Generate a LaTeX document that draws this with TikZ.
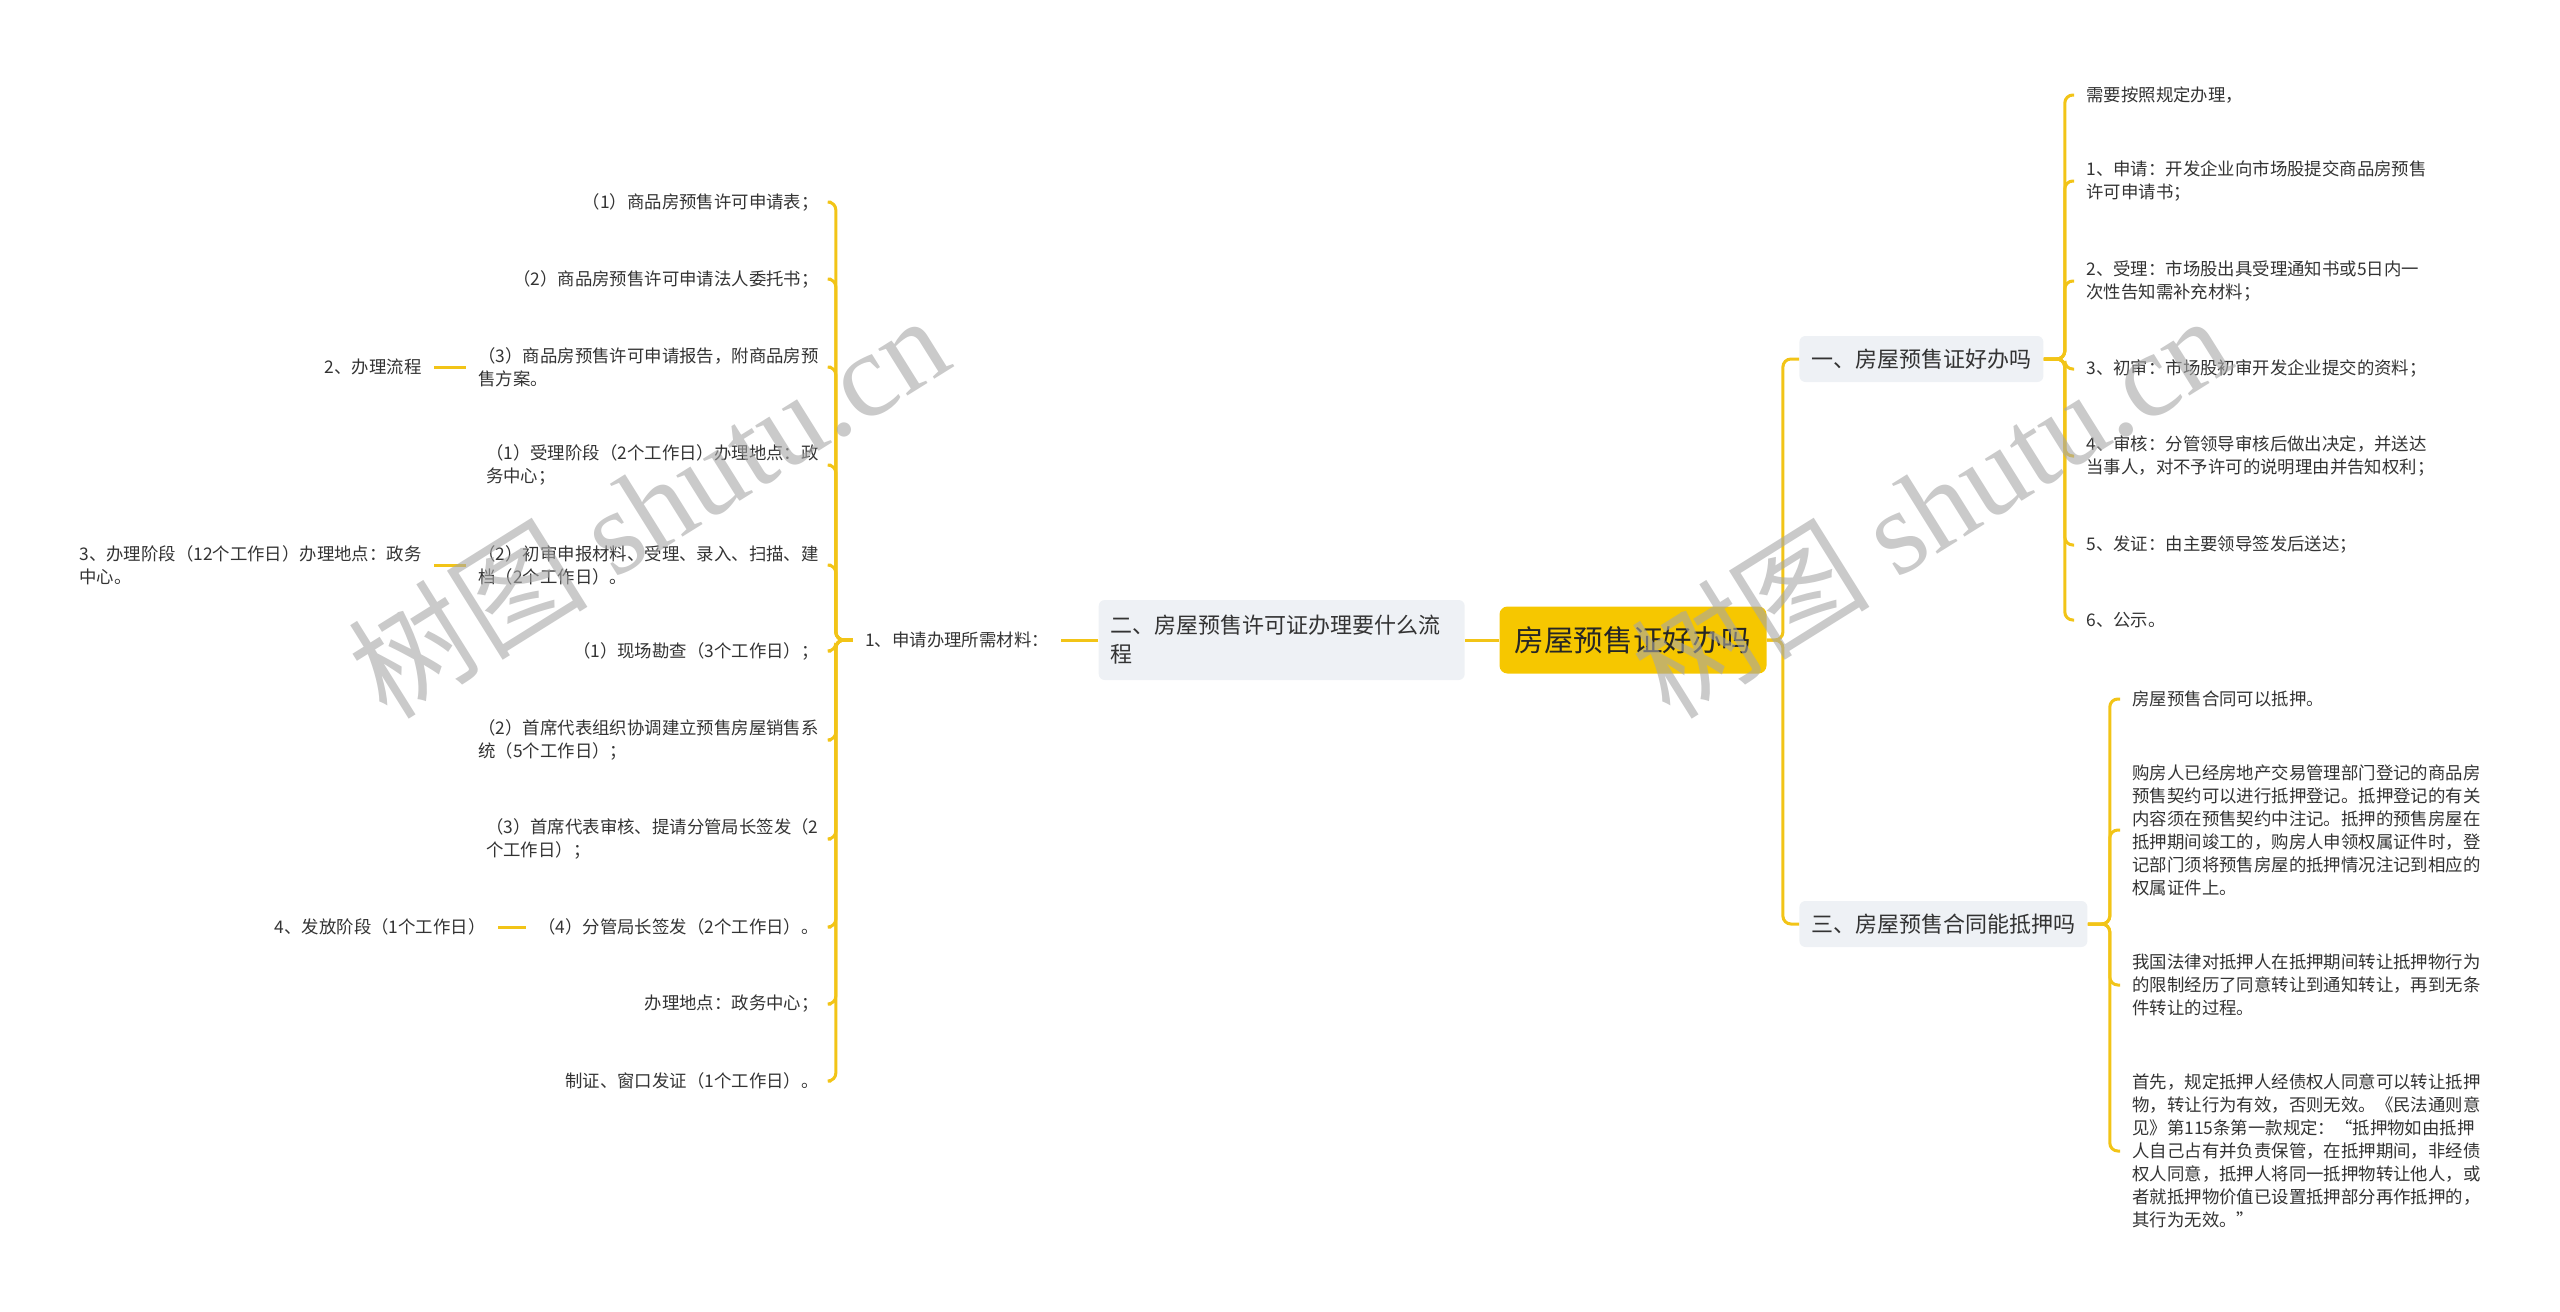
\documentclass[tikz,border=0pt]{standalone}
\usepackage{fontspec}
\setmainfont{Noto Sans CJK SC}
\newfontfamily\wmfont{Liberation Serif}
\usepackage{tikz}
\usetikzlibrary{positioning}
\definecolor{branchline}{HTML}{F2C417}
\definecolor{rootfill}{HTML}{F6C700}
\definecolor{topicfill}{HTML}{EEF1F5}
\definecolor{inktext}{HTML}{333333}

\begin{document}
\begin{tikzpicture}[x=0.5pt, y=-0.5pt, text=inktext, font=\fontsize{8.7}{11.5}\selectfont]
    \tikzstyle{root} = [rectangle, fill=rootfill, rounded corners=4pt, minimum width=133.5pt, minimum height=33.5pt, text=black!85, font=\fontsize{14.8}{18}\selectfont]
    \tikzstyle{topic} = [rectangle, fill=topicfill, rounded corners=3pt, inner xsep=6pt, minimum height=23pt, font=\fontsize{11}{14.5}\selectfont]
    \tikzstyle{leaf} = [inner xsep=6pt, inner ysep=1pt, align=left]
    \tikzstyle{leafl} = [leaf, anchor=east]
    \tikzstyle{leafr} = [leaf, anchor=west]
    \tikzstyle{link} = [draw=branchline, line width=1.5pt, rounded corners=4pt]
    \tikzstyle{wmark} = [rotate=32, text=black!35, opacity=0.6, font=\fontsize{60}{60}\selectfont]

    \useasboundingbox (0,0) rectangle (2560,1312);

    % centre and the left branch
    \node [root] (root) at (1633,640) {房屋预售证好办吗};
    \node [topic, left=17pt of root, text width=171pt, align=left, minimum height=40pt] (permit) {二、房屋预售许可证办理要什么流\\程};
    \node [leaf, left=18.5pt of permit] (material) {1、申请办理所需材料：};

    \node [leafl] (form) at (831,202) {（1）商品房预售许可申请表；};
    \node [leafl] (proxy) at (831,279) {（2）商品房预售许可申请法人委托书；};
    \node [leafl] (report) at (831,367) {（3）商品房预售许可申请报告，附商品房预\\售方案。};
    \node [leafl] (accept) at (831,465) {（1）受理阶段（2个工作日）办理地点：政\\务中心；};
    \node [leafl] (review) at (831,565) {（2）初审申报材料、受理、录入、扫描、建\\档（2个工作日）。};
    \node [leafl] (survey) at (831,651) {（1）现场勘查（3个工作日）；};
    \node [leafl] (system) at (831,740) {（2）首席代表组织协调建立预售房屋销售系\\统（5个工作日）；};
    \node [leafl] (audit) at (831,839) {（3）首席代表审核、提请分管局长签发（2\\个工作日）；};
    \node [leafl] (sign) at (831,927) {（4）分管局长签发（2个工作日）。};
    \node [leafl] (place) at (831,1004) {办理地点：政务中心；};
    \node [leafl] (issue) at (831,1081) {制证、窗口发证（1个工作日）。};

    \node [leaf, left=16pt of report] (flow) {2、办理流程};
    \node [leaf, left=16pt of review] (stage) {3、办理阶段（12个工作日）办理地点：政务\\中心。};
    \node [leaf, left=14pt of sign] (release) {4、发放阶段（1个工作日）};

    % right branches
    \node [topic, anchor=west] (easy) at (1799,359) {一、房屋预售证好办吗};
    \node [topic, anchor=west] (mortgage) at (1799,924) {三、房屋预售合同能抵押吗};

    \node [leafr] (rule) at (2074,95) {需要按照规定办理，};
    \node [leafr] (apply) at (2074,181) {1、申请：开发企业向市场股提交商品房预售\\许可申请书；};
    \node [leafr] (receive) at (2074,281) {2、受理：市场股出具受理通知书或5日内一\\次性告知需补充材料；};
    \node [leafr] (firstchk) at (2074,369) {3、初审：市场股初审开发企业提交的资料；};
    \node [leafr] (verify) at (2074,456) {4、审核：分管领导审核后做出决定，并送达\\当事人，对不予许可的说明理由并告知权利；};
    \node [leafr] (certify) at (2074,545) {5、发证：由主要领导签发后送达；};
    \node [leafr] (publish) at (2074,620) {6、公示。};

    \node [leafr] (mortok) at (2120,699) {房屋预售合同可以抵押。};
    \node [leafr] (buyer) at (2120,830) {购房人已经房地产交易管理部门登记的商品房\\预售契约可以进行抵押登记。抵押登记的有关\\内容须在预售契约中注记。抵押的预售房屋在\\抵押期间竣工的，购房人申领权属证件时，登\\记部门须将预售房屋的抵押情况注记到相应的\\权属证件上。};
    \node [leafr] (law) at (2120,985) {我国法律对抵押人在抵押期间转让抵押物行为\\的限制经历了同意转让到通知转让，再到无条\\件转让的过程。};
    \node [leafr] (first) at (2120,1151) {首先，规定抵押人经债权人同意可以转让抵押\\物，转让行为有效，否则无效。《民法通则意\\见》第115条第一款规定：“抵押物如由抵押\\人自己占有并负责保管，在抵押期间，非经债\\权人同意，抵押人将同一抵押物转让他人，或\\者就抵押物价值已设置抵押部分再作抵押的，\\其行为无效。”};

    % connectors
    \draw [link] (root.west) -- (permit.east);
    \draw [link] (permit.west) -- (material.east);
    \foreach \n in {form,proxy,report,accept,review,survey,system,audit,sign,place,issue}
        \draw [link] (material.west) -- ++(-17,0) |- (\n.east);
    \draw [link] (report.west) -- (flow.east);
    \draw [link] (review.west) -- (stage.east);
    \draw [link] (sign.west) -- (release.east);

    \foreach \n in {easy,mortgage}
        \draw [link] (root.east) -- ++(16,0) |- (\n.west);
    \foreach \n in {rule,apply,receive,firstchk,verify,certify,publish}
        \draw [link] (easy.east) -- ++(21,0) |- (\n.west);
    \foreach \n in {mortok,buyer,law,first}
        \draw [link] (mortgage.east) -- ++(22,0) |- (\n.west);

    % watermark
    \node [wmark] (markl) at (648,505) {树图 {\wmfont shutu.cn}};
    \node [wmark] (markr) at (1930,505) {树图 {\wmfont shutu.cn}};
\end{tikzpicture}
\end{document}
